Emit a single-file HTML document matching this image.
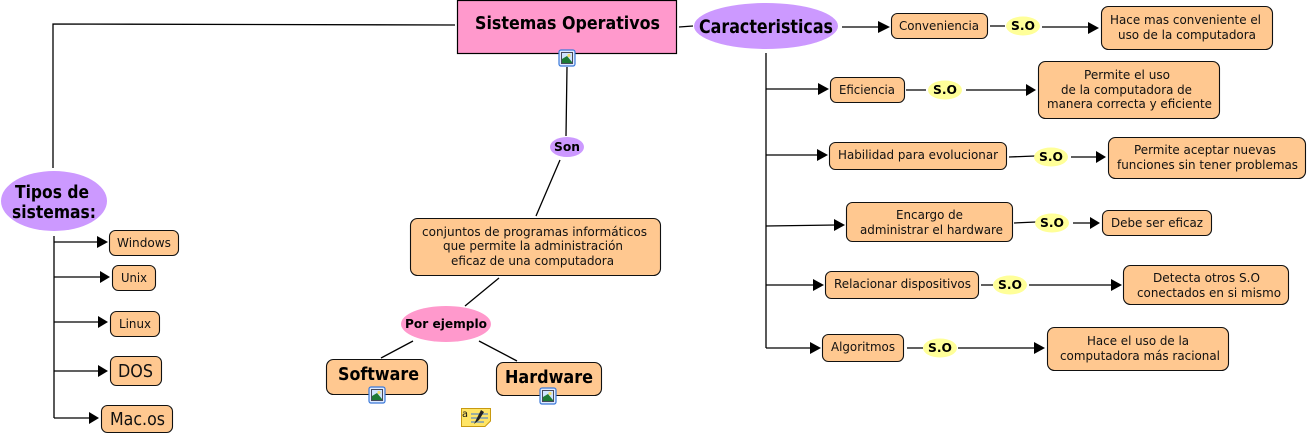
<!DOCTYPE html>
<html>
<head>
<meta charset="utf-8">
<style>
html,body{margin:0;padding:0;background:#fff;width:1308px;height:435px;overflow:hidden}
svg{display:block}
text{font-family:"DejaVu Sans","Liberation Sans",sans-serif;fill:#111}
.b{fill:#ffc890;stroke:#111;stroke-width:1.1}
.l{stroke:#000;stroke-width:1.3;fill:none}
.a{fill:#000}
.s{font-size:12px}
.so{font-size:12.500px;font-weight:bold;fill:#000}
</style>
</head>
<body>
<svg width="1308" height="435" viewBox="0 0 1308 435" xmlns="http://www.w3.org/2000/svg">
<defs>
<g id="pic">
<rect x="-8" y="-8" width="16" height="16" rx="2" fill="#dfeaff" stroke="#3a78d8" stroke-width="1.2"/>
<rect x="-5.500" y="-5.500" width="11" height="11" fill="#cfe4ff" stroke="#223" stroke-width="0.8"/>
<circle cx="2" cy="-2.500" r="1.600" fill="#f5e070"/>
<path d="M-5 5 L-5 1 L0 -2 L5 4 L5 5 Z" fill="#1d7a35"/>
</g>
</defs>

<!-- connectors -->
<path class="l" d="M53 168V24L455 25"/>
<path class="l" d="M679 27L693 26"/>
<path class="l" d="M842 27H880"/>
<path class="l" d="M567 67L566 136M560 160L536 216M499 278L465 306M413 341L381 358M479 341L517 361"/>
<path class="l" d="M766 53V348"/>
<path class="l" d="M766 89H820M766 155H819M766 226L836 225M766 285H815M766 348H812"/>
<path class="l" d="M54 236V418"/>
<path class="l" d="M54 242H99M54 277H102M54 322H100M54 371H100M54 418H91"/>
<path class="l" d="M990 26H1005M1042 27H1090M906 90H926M966 90H1028M1009 157L1035 156M1071 157H1098M1014 223L1036 222M1073 223H1091M981 285H993M1029 285H1113M907 348H923M958 348H1036"/>

<!-- arrowheads -->
<g class="a">
<path d="M878 21L890 27L878 33Z"/>
<path d="M818 83L829 89L818 95Z"/>
<path d="M817 149L828 155L817 161Z"/>
<path d="M834 219L845 225L834 231Z"/>
<path d="M813 279L824 285L813 291Z"/>
<path d="M810 342L821 348L810 354Z"/>
<path d="M1088 22L1099 28L1088 34Z"/>
<path d="M1026 84L1036 90L1026 96Z"/>
<path d="M1096 151L1106 157L1096 163Z"/>
<path d="M1090 217L1100 223L1090 229Z"/>
<path d="M1111 279L1122 285L1111 291Z"/>
<path d="M1034 342L1045 348L1034 354Z"/>
<path d="M97 236L108 242L97 248Z"/>
<path d="M100 271L110 277L100 283Z"/>
<path d="M98 316L108 322L98 328Z"/>
<path d="M98 365L108 371L98 377Z"/>
<path d="M89 412L99 418L89 424Z"/>
</g>

<!-- main node -->
<rect x="457.500" y="0.500" width="219" height="53" fill="#ff99cc" stroke="#000" stroke-width="1.200"/>
<text x="475" y="29" font-size="18" font-weight="bold" textLength="185" lengthAdjust="spacingAndGlyphs" style="fill:#000">Sistemas Operativos</text>
<use href="#pic" x="567" y="58"/>

<ellipse cx="766" cy="26" rx="72" ry="23" fill="#cc99ff"/>
<text x="699" y="33" font-size="19" font-weight="bold" textLength="134" lengthAdjust="spacingAndGlyphs" style="fill:#000">Caracteristicas</text>

<ellipse cx="54" cy="201" rx="53" ry="30" fill="#cc99ff"/>
<text x="15" y="198" font-size="18" font-weight="bold" textLength="74" lengthAdjust="spacingAndGlyphs" style="fill:#000">Tipos de</text>
<text x="12" y="218" font-size="18" font-weight="bold" textLength="84" lengthAdjust="spacingAndGlyphs" style="fill:#000">sistemas:</text>

<ellipse cx="567" cy="147" rx="17" ry="10" fill="#cc99ff"/>
<text x="554" y="151" font-size="12.500" font-weight="bold" textLength="26" lengthAdjust="spacingAndGlyphs" style="fill:#000">Son</text>

<ellipse cx="446" cy="324" rx="45" ry="18" fill="#ff99cc"/>
<text x="405" y="328" font-size="12.500" font-weight="bold" textLength="82" lengthAdjust="spacingAndGlyphs" style="fill:#000">Por ejemplo</text>

<!-- center -->
<rect class="b" x="410.500" y="218.500" width="250" height="57" rx="7"/>
<text class="s" x="422" y="236" textLength="225" lengthAdjust="spacingAndGlyphs">conjuntos de programas informáticos</text>
<text class="s" x="443" y="250" textLength="180" lengthAdjust="spacingAndGlyphs">que permite la administración</text>
<text class="s" x="451" y="265" textLength="163" lengthAdjust="spacingAndGlyphs">eficaz de una computadora</text>

<rect class="b" x="326.500" y="359.500" width="101" height="35" rx="7"/>
<text x="338" y="380" font-size="17.500" font-weight="bold" textLength="81" lengthAdjust="spacingAndGlyphs" style="fill:#000">Software</text>
<use href="#pic" x="377" y="395"/>
<rect class="b" x="496.500" y="362.500" width="105" height="33" rx="7"/>
<text x="505" y="383" font-size="17.500" font-weight="bold" textLength="88" lengthAdjust="spacingAndGlyphs" style="fill:#000">Hardware</text>
<use href="#pic" x="548" y="396"/>

<!-- note icon -->
<path d="M461.500 408.500H490.500V421L485 426.500H461.500Z" fill="#ffe566" stroke="#c89a10" stroke-width="1"/>
<path d="M471 414H488M471 418H488M471 422H484" stroke="#3a78d8" stroke-width="1"/>
<path d="M474 424L477 418L481 410L484 412L479 420Z" fill="#222"/>
<text x="462" y="417" font-size="10" textLength="6" lengthAdjust="spacingAndGlyphs">a</text>

<!-- left list -->
<rect class="b" x="109.500" y="230.500" width="69" height="25" rx="6"/>
<text class="s" x="117" y="247" textLength="54" lengthAdjust="spacingAndGlyphs">Windows</text>
<rect class="b" x="112.500" y="265.500" width="43" height="25" rx="6"/>
<text class="s" x="121" y="282" textLength="26" lengthAdjust="spacingAndGlyphs">Unix</text>
<rect class="b" x="110.500" y="311.500" width="49" height="25" rx="6"/>
<text class="s" x="119" y="328" textLength="32" lengthAdjust="spacingAndGlyphs">Linux</text>
<rect class="b" x="110.500" y="356.500" width="51" height="29" rx="6"/>
<text x="118" y="377" font-size="18" textLength="35" lengthAdjust="spacingAndGlyphs">DOS</text>
<rect class="b" x="101.500" y="405.500" width="71" height="27" rx="6"/>
<text x="110" y="425" font-size="18" textLength="55" lengthAdjust="spacingAndGlyphs">Mac.os</text>

<!-- right boxes -->
<rect class="b" x="891.500" y="13.500" width="96" height="25" rx="6"/>
<text class="s" x="899" y="30" textLength="80" lengthAdjust="spacingAndGlyphs">Conveniencia</text>
<rect class="b" x="830.500" y="77.500" width="74" height="25" rx="6"/>
<text class="s" x="839" y="94" textLength="56" lengthAdjust="spacingAndGlyphs">Eficiencia</text>
<rect class="b" x="829.500" y="142.500" width="177" height="27" rx="6"/>
<text class="s" x="838" y="159" textLength="160" lengthAdjust="spacingAndGlyphs">Habilidad para evolucionar</text>
<rect class="b" x="846.500" y="202.500" width="166" height="39" rx="6"/>
<text class="s" x="896" y="219" textLength="67" lengthAdjust="spacingAndGlyphs">Encargo de</text>
<text class="s" x="860" y="234" textLength="143" lengthAdjust="spacingAndGlyphs">administrar el hardware</text>
<rect class="b" x="825.500" y="271.500" width="153" height="27" rx="6"/>
<text class="s" x="834" y="288" textLength="137" lengthAdjust="spacingAndGlyphs">Relacionar dispositivos</text>
<rect class="b" x="822.500" y="334.500" width="81" height="27" rx="6"/>
<text class="s" x="831" y="351" textLength="64" lengthAdjust="spacingAndGlyphs">Algoritmos</text>

<rect class="b" x="1101.500" y="6.500" width="171" height="43" rx="7"/>
<text class="s" x="1110" y="24" textLength="151" lengthAdjust="spacingAndGlyphs">Hace mas conveniente el</text>
<text class="s" x="1118" y="39" textLength="138" lengthAdjust="spacingAndGlyphs">uso de la computadora</text>

<rect class="b" x="1038.500" y="61.500" width="181" height="57" rx="7"/>
<text class="s" x="1084" y="79" textLength="86" lengthAdjust="spacingAndGlyphs">Permite el uso</text>
<text class="s" x="1061" y="94" textLength="131" lengthAdjust="spacingAndGlyphs">de la computadora de</text>
<text class="s" x="1047" y="108" textLength="165" lengthAdjust="spacingAndGlyphs">manera correcta y eficiente</text>

<rect class="b" x="1108.500" y="137.500" width="197" height="41" rx="7"/>
<text class="s" x="1134" y="154" textLength="142" lengthAdjust="spacingAndGlyphs">Permite aceptar nuevas</text>
<text class="s" x="1117" y="169" textLength="181" lengthAdjust="spacingAndGlyphs">funciones sin tener problemas</text>

<rect class="b" x="1102.500" y="210.500" width="109" height="25" rx="6"/>
<text class="s" x="1111" y="227" textLength="92" lengthAdjust="spacingAndGlyphs">Debe ser eficaz</text>

<rect class="b" x="1123.500" y="265.500" width="165" height="39" rx="7"/>
<text class="s" x="1153" y="282" textLength="107" lengthAdjust="spacingAndGlyphs">Detecta otros S.O</text>
<text class="s" x="1137" y="297" textLength="144" lengthAdjust="spacingAndGlyphs">conectados en si mismo</text>

<rect class="b" x="1047.500" y="327.500" width="181" height="43" rx="7"/>
<text class="s" x="1087" y="345" textLength="102" lengthAdjust="spacingAndGlyphs">Hace el uso de la</text>
<text class="s" x="1060" y="360" textLength="160" lengthAdjust="spacingAndGlyphs">computadora más racional</text>

<!-- S.O ovals -->
<g fill="#ffff99">
<ellipse cx="1023" cy="26" rx="17" ry="9.500"/>
<ellipse cx="945" cy="90" rx="17" ry="9.500"/>
<ellipse cx="1051" cy="157" rx="17" ry="9.500"/>
<ellipse cx="1052" cy="223" rx="17" ry="9.500"/>
<ellipse cx="1010" cy="285" rx="17" ry="9.500"/>
<ellipse cx="940" cy="348" rx="17" ry="9.500"/>
</g>
<text class="so" x="1011" y="30" textLength="24" lengthAdjust="spacingAndGlyphs">S.O</text>
<text class="so" x="933" y="94" textLength="24" lengthAdjust="spacingAndGlyphs">S.O</text>
<text class="so" x="1039" y="161" textLength="24" lengthAdjust="spacingAndGlyphs">S.O</text>
<text class="so" x="1040" y="227" textLength="24" lengthAdjust="spacingAndGlyphs">S.O</text>
<text class="so" x="998" y="289" textLength="24" lengthAdjust="spacingAndGlyphs">S.O</text>
<text class="so" x="928" y="352" textLength="24" lengthAdjust="spacingAndGlyphs">S.O</text>
</svg>
</body>
</html>
